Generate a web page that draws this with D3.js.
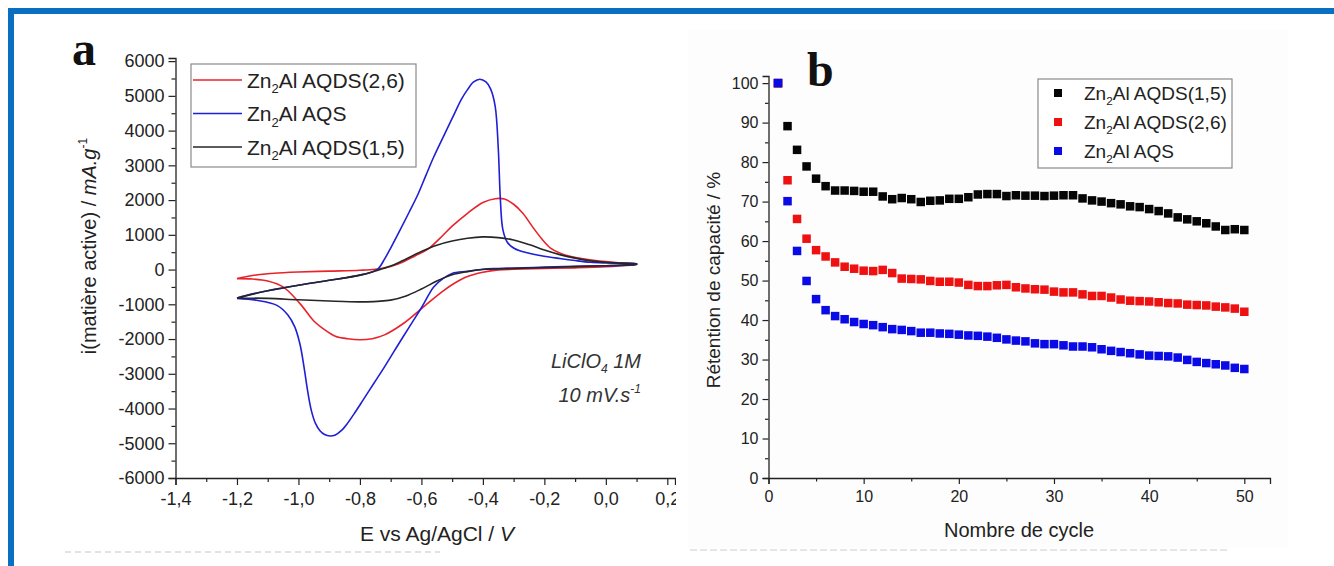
<!DOCTYPE html>
<html><head><meta charset="utf-8">
<script src="https://cdn.jsdelivr.net/npm/d3@7"></script>
<style>
html,body{margin:0;padding:0;background:#fff;}
svg{display:block;font-family:"Liberation Sans",Arial,sans-serif;}
</style></head>
<body><svg id="c" width="1334" height="566"></svg>
<script>
// ---------- Panel a : cyclic voltammetry ----------
const cvXTicks = [-1.4,-1.2,-1.0,-0.8,-0.6,-0.4,-0.2,0.0,0.2];
const cvXTickLabels = ["-1,4","-1,2","-1,0","-0,8","-0,6","-0,4","-0,2","0,0","0,2"];
const cvXMinor = [-1.3,-1.1,-0.9,-0.7,-0.5,-0.3,-0.1,0.1];
const cvYTicks = [-6000,-5000,-4000,-3000,-2000,-1000,0,1000,2000,3000,4000,5000,6000];
const cvYTickLabels = ["-6000","-5000","-4000","-3000","-2000","-1000","0","1000","2000","3000","4000","5000","6000"];
const cvYMinor = [-5500,-4500,-3500,-2500,-1500,-500,500,1500,2500,3500,4500,5500];
const cvSeriesNames = ["Zn2Al AQDS(2,6)","Zn2Al AQS","Zn2Al AQDS(1,5)"];

// Zn2Al AQDS(2,6) loop (E in V, i in mA/g)
const cvRedE = [-1.20,-1.15,-1.10,-1.05,-1.00,-0.90,-0.80,-0.75,-0.70,-0.66,-0.62,-0.58,-0.54,-0.50,-0.45,-0.40,-0.36,-0.33,-0.30,-0.27,-0.24,-0.21,-0.18,-0.15,-0.12,-0.08,-0.04,0.00,0.05,0.10,
                0.10,0.05,0.00,-0.10,-0.20,-0.30,-0.35,-0.40,-0.45,-0.49,-0.53,-0.59,-0.66,-0.72,-0.76,-0.80,-0.84,-0.88,-0.92,-0.95,-0.995,-1.05,-1.10,-1.15,-1.20];
const cvRedI = [-260,-170,-120,-90,-70,-45,-20,10,90,220,400,580,900,1250,1620,1930,2040,2030,1880,1620,1250,900,620,480,390,320,270,230,190,160,
                150,110,80,50,30,10,-10,-80,-200,-380,-620,-1050,-1560,-1880,-1990,-2020,-1990,-1920,-1700,-1480,-980,-500,-330,-270,-260];
// Zn2Al AQS loop
const cvBlueE = [-1.20,-1.15,-1.10,-1.05,-1.00,-0.95,-0.90,-0.85,-0.80,-0.76,-0.74,-0.72,-0.70,-0.67,-0.64,-0.61,-0.585,-0.56,-0.53,-0.50,-0.47,-0.45,-0.43,-0.41,-0.39,-0.375,-0.36,-0.35,-0.343,-0.335,-0.32,-0.30,-0.28,-0.25,-0.21,-0.15,-0.10,-0.05,0.00,0.05,0.10,
                 0.10,0.05,0.00,-0.10,-0.20,-0.30,-0.35,-0.40,-0.45,-0.50,-0.53,-0.56,-0.60,-0.63,-0.66,-0.69,-0.72,-0.755,-0.79,-0.815,-0.84,-0.86,-0.88,-0.897,-0.915,-0.93,-0.945,-0.958,-0.97,-0.982,-0.995,-1.012,-1.035,-1.07,-1.136,-1.20];
const cvBlueI = [-820,-700,-610,-530,-450,-380,-310,-240,-160,-70,30,300,620,1130,1650,2190,2720,3240,3800,4350,4900,5180,5400,5480,5400,5200,4700,3500,2000,1150,780,620,540,470,400,320,260,210,190,180,160,
                 150,120,110,95,70,45,30,10,-50,-110,-260,-500,-1100,-1520,-1940,-2370,-2800,-3280,-3760,-4100,-4420,-4630,-4760,-4790,-4750,-4640,-4420,-4060,-3500,-2800,-2150,-1650,-1300,-1030,-884,-830];
// Zn2Al AQDS(1,5) loop
const cvBlackE = [-1.20,-1.10,-1.00,-0.90,-0.80,-0.75,-0.70,-0.66,-0.60,-0.55,-0.50,-0.45,-0.40,-0.35,-0.30,-0.25,-0.20,-0.15,-0.10,-0.05,0.00,0.05,0.10,
                  0.10,0.05,0.00,-0.10,-0.18,-0.30,-0.40,-0.45,-0.50,-0.55,-0.60,-0.65,-0.70,-0.78,-0.88,-1.00,-1.10,-1.20];
const cvBlackI = [-820,-610,-450,-310,-160,-40,100,260,520,700,820,900,940,920,850,720,560,430,330,250,210,185,165,
                  155,130,110,85,60,30,0,-60,-150,-330,-560,-760,-880,-930,-910,-870,-830,-820];

// ---------- Panel b : capacity retention ----------
const cycleNumbers = [1,2,3,4,5,6,7,8,9,10,11,12,13,14,15,16,17,18,19,20,21,22,23,24,25,26,27,28,29,30,31,32,33,34,35,36,37,38,39,40,41,42,43,44,45,46,47,48,49,50];
const retAQDS15 = [100,89.1,83.1,78.9,75.8,73.9,72.8,72.8,72.7,72.5, 72.5,71.3,70.6,70.9,70.6,69.9,70.2,70.3,70.7,70.7, 71.1,71.8,71.9,71.9,71.4,71.6,71.5,71.5,71.4,71.5, 71.6,71.6,70.8,70.3,70.0,69.6,69.3,68.8,68.6,68.1, 67.6,67.0,66.0,65.5,65.0,64.5,63.7,62.8,63.0,62.8];
const retAQDS26 = [100,75.4,65.6,60.6,57.7,56.1,54.6,53.5,53.0,52.5, 52.4,52.7,51.9,50.5,50.4,50.3,49.9,49.7,49.7,49.5, 48.9,48.6,48.6,48.8,48.9,48.3,48.0,47.8,47.7,47.2, 47.0,47.0,46.5,46.1,46.1,45.7,45.2,44.9,44.8,44.7, 44.5,44.3,44.2,43.9,43.8,43.7,43.4,43.2,42.9,42.1];
const retAQS = [100,70.1,57.5,49.9,45.3,42.5,41.0,40.2,39.5,39.0, 38.7,38.2,37.7,37.5,37.2,36.8,36.8,36.6,36.5,36.3, 36.1,36.0,35.8,35.5,35.1,34.8,34.6,34.1,33.9,33.9, 33.6,33.3,33.3,33.1,32.6,32.2,31.9,31.6,31.3,31.0, 30.9,30.8,30.5,29.9,29.4,29.1,28.8,28.5,27.9,27.6];
const retSeriesNames = ["Zn2Al AQDS(1,5)","Zn2Al AQDS(2,6)","Zn2Al AQS"];
const retXTicks = [0,10,20,30,40,50];
const retXMinor = [5,15,25,35,45];
const retYTicks = [0,10,20,30,40,50,60,70,80,90,100];
const retYMinor = [5,15,25,35,45,55,65,75,85,95];

// ================= drawing =================
const svg = d3.select("#c");
const COL = {red:"#e8232b", blue:"#1f1fd6", black:"#262626"};
const MCOL = {black:"#050505", red:"#ee1111", blue:"#0a0ae6"};

function zn(sel, label, fs){
  const rest = label.slice(3);
  sel.append("tspan").text("Zn");
  sel.append("tspan").attr("font-size", fs*0.62).attr("dy", fs*0.28).text("2");
  sel.append("tspan").attr("dy", -fs*0.28).text(rest);
}

// ---- Panel a ----
const ax = d3.scaleLinear().domain([-1.4, 0.225]).range([175.5, 675]);
const ay = d3.scaleLinear().domain([-6000, 6090]).range([478, 58]);
const ga = svg.append("g");

function styleAxis(g){
  g.selectAll(".domain").attr("stroke","#222").attr("stroke-width",1.3);
  g.selectAll(".tick line").attr("stroke","#222").attr("stroke-width",1.2);
}
const aYAxis = ga.append("g").attr("transform","translate(175.5,0)")
  .call(d3.axisLeft(ay).tickValues(cvYTicks).tickSize(7).tickPadding(4).tickFormat((d,i)=>cvYTickLabels[i]));
aYAxis.selectAll("text").attr("font-size",18).attr("fill","#222").attr("font-family","Liberation Sans");
styleAxis(aYAxis);
const aYMin = ga.append("g").attr("transform","translate(175.5,0)")
  .call(d3.axisLeft(ay).tickValues(cvYMinor).tickSize(4).tickFormat(""));
aYMin.select(".domain").remove(); styleAxis(aYMin);

const aXAxis = ga.append("g").attr("transform","translate(0,478)")
  .call(d3.axisBottom(ax).tickValues(cvXTicks).tickSize(7).tickPadding(7).tickFormat((d,i)=>cvXTickLabels[i]));
aXAxis.selectAll("text").attr("font-size",18).attr("fill","#222").attr("font-family","Liberation Sans");
styleAxis(aXAxis);
const aXMin = ga.append("g").attr("transform","translate(0,478)")
  .call(d3.axisBottom(ax).tickValues(cvXMinor).tickSize(4).tickFormat(""));
aXMin.select(".domain").remove(); styleAxis(aXMin);

const cvLine = d3.line().x(d=>ax(d[0])).y(d=>ay(d[1])).curve(d3.curveCatmullRom.alpha(0.5));
const cvData = [
  {E:cvRedE, I:cvRedI, c:COL.red},
  {E:cvBlueE, I:cvBlueI, c:COL.blue},
  {E:cvBlackE, I:cvBlackI, c:COL.black}
];
cvData.forEach(s=>{
  const pts = s.E.map((e,i)=>[e, s.I[i]]);
  ga.append("path").attr("d", cvLine(pts)).attr("fill","none")
    .attr("stroke", s.c).attr("stroke-width",1.6).attr("stroke-linejoin","round");
});

// legend a
ga.append("rect").attr("x",191).attr("y",64).attr("width",225).attr("height",103)
  .attr("fill","#fff").attr("stroke","#8a8a8a").attr("stroke-width",1.2);
const legAC = [COL.red, COL.blue, COL.black];
cvSeriesNames.forEach((n,i)=>{
  const y = 80 + i*33.5;
  ga.append("line").attr("x1",193).attr("x2",242).attr("y1",y).attr("y2",y)
    .attr("stroke",legAC[i]).attr("stroke-width",1.6);
  const t = ga.append("text").attr("x",247).attr("y",y+7.5).attr("font-size",21).attr("fill","#222");
  zn(t, n, 21);
});

// axis titles a
const ytA = ga.append("text").attr("transform","translate(96,246) rotate(-90)")
  .attr("text-anchor","middle").attr("font-size",20).attr("fill","#222");
ytA.append("tspan").text("i(matière active) / ");
ytA.append("tspan").attr("font-style","italic").text("mA.g");
ytA.append("tspan").attr("font-size",12).attr("dy",-9).text("-1");

const xtA = ga.append("text").attr("x",437).attr("y",541).attr("text-anchor","middle")
  .attr("font-size",21).attr("fill","#222");
xtA.append("tspan").text("E vs Ag/AgCl / ");
xtA.append("tspan").attr("font-style","italic").text("V");

// annotation
const an1 = ga.append("text").attr("x",641).attr("y",368).attr("text-anchor","end")
  .attr("font-size",20).attr("font-style","italic").attr("fill","#333");
an1.append("tspan").text("LiClO");
an1.append("tspan").attr("font-size",12).attr("dy",5).text("4");
an1.append("tspan").attr("dy",-5).text(" 1M");
const an2 = ga.append("text").attr("x",641).attr("y",402).attr("text-anchor","end")
  .attr("font-size",20).attr("font-style","italic").attr("fill","#333");
an2.append("tspan").text("10 mV.s");
an2.append("tspan").attr("font-size",12).attr("dy",-9).text("-1");

ga.append("text").attr("x",72).attr("y",65).attr("font-family","Liberation Serif")
  .attr("font-weight","bold").attr("font-size",48).attr("fill","#111").text("a");

// ---- Panel b ----
const gb = svg.append("g");
gb.append("rect").attr("x",676).attr("y",15).attr("width",658).attr("height",551).attr("fill","#fff");
gb.append("rect").attr("x",688).attr("y",30).attr("width",600).attr("height",518).attr("fill","#fdfdfd");

const bx = d3.scaleLinear().domain([0, 52.7]).range([768.5, 1270]);
const by = d3.scaleLinear().domain([0, 101.8]).range([478, 76]);

const bYAxis = gb.append("g").attr("transform","translate(768.5,0)")
  .call(d3.axisLeft(by).tickValues(retYTicks).tickSize(6).tickPadding(4));
bYAxis.selectAll("text").attr("font-size",16).attr("fill","#222").attr("font-family","Liberation Sans");
styleAxis(bYAxis);
const bYMin = gb.append("g").attr("transform","translate(768.5,0)")
  .call(d3.axisLeft(by).tickValues(retYMinor).tickSize(3.5).tickFormat(""));
bYMin.select(".domain").remove(); styleAxis(bYMin);

const bXAxis = gb.append("g").attr("transform","translate(0,478)")
  .call(d3.axisBottom(bx).tickValues(retXTicks).tickSize(6).tickPadding(7));
bXAxis.selectAll("text").attr("font-size",16).attr("fill","#222").attr("font-family","Liberation Sans");
styleAxis(bXAxis);
const bXMin = gb.append("g").attr("transform","translate(0,478)")
  .call(d3.axisBottom(bx).tickValues(retXMinor).tickSize(3.5).tickFormat(""));
bXMin.select(".domain").remove(); styleAxis(bXMin);

const retData = [
  {v:retAQDS15, c:MCOL.black},
  {v:retAQDS26, c:MCOL.red},
  {v:retAQS, c:MCOL.blue}
];
const MS = 8.5;
retData.forEach(s=>{
  gb.append("g").selectAll("rect").data(cycleNumbers).join("rect")
    .attr("x", (d)=>bx(d)-MS/2).attr("y",(d,i)=>by(s.v[i])-MS/2)
    .attr("width",MS).attr("height",MS).attr("fill",s.c);
});

// legend b
gb.append("rect").attr("x",1038).attr("y",79).attr("width",194).attr("height",89)
  .attr("fill","#fff").attr("stroke","#8a8a8a").attr("stroke-width",1.2);
const legBC = [MCOL.black, MCOL.red, MCOL.blue];
retSeriesNames.forEach((n,i)=>{
  const y = 93 + i*29;
  gb.append("rect").attr("x",1058-4).attr("y",y-4).attr("width",8).attr("height",8).attr("fill",legBC[i]);
  const t = gb.append("text").attr("x",1084).attr("y",y+7).attr("font-size",19).attr("fill","#222");
  zn(t, n, 19);
});

gb.append("text").attr("transform","translate(720,280) rotate(-90)").attr("text-anchor","middle")
  .attr("font-size",19).attr("fill","#222").text("Rétention de capacité / %");
gb.append("text").attr("x",1019).attr("y",537).attr("text-anchor","middle")
  .attr("font-size",20).attr("fill","#222").text("Nombre de cycle");

gb.append("text").attr("x",807).attr("y",86).attr("font-family","Liberation Serif")
  .attr("font-weight","bold").attr("font-size",48).attr("fill","#111").text("b");

// faint cut-off caption hint
svg.append("line").attr("x1",65).attr("x2",440).attr("y1",552).attr("y2",552)
  .attr("stroke","#e2e2e2").attr("stroke-width",2).attr("stroke-dasharray","6,4");
svg.append("line").attr("x1",690).attr("x2",1230).attr("y1",550).attr("y2",550)
  .attr("stroke","#e6e6e6").attr("stroke-width",2).attr("stroke-dasharray","7,3");

// blue frame
svg.append("rect").attr("x",8).attr("y",8).attr("width",1326).attr("height",6).attr("fill","#0a6fc2");
svg.append("rect").attr("x",8).attr("y",8).attr("width",6).attr("height",558).attr("fill","#0a6fc2");
</script></body></html>
